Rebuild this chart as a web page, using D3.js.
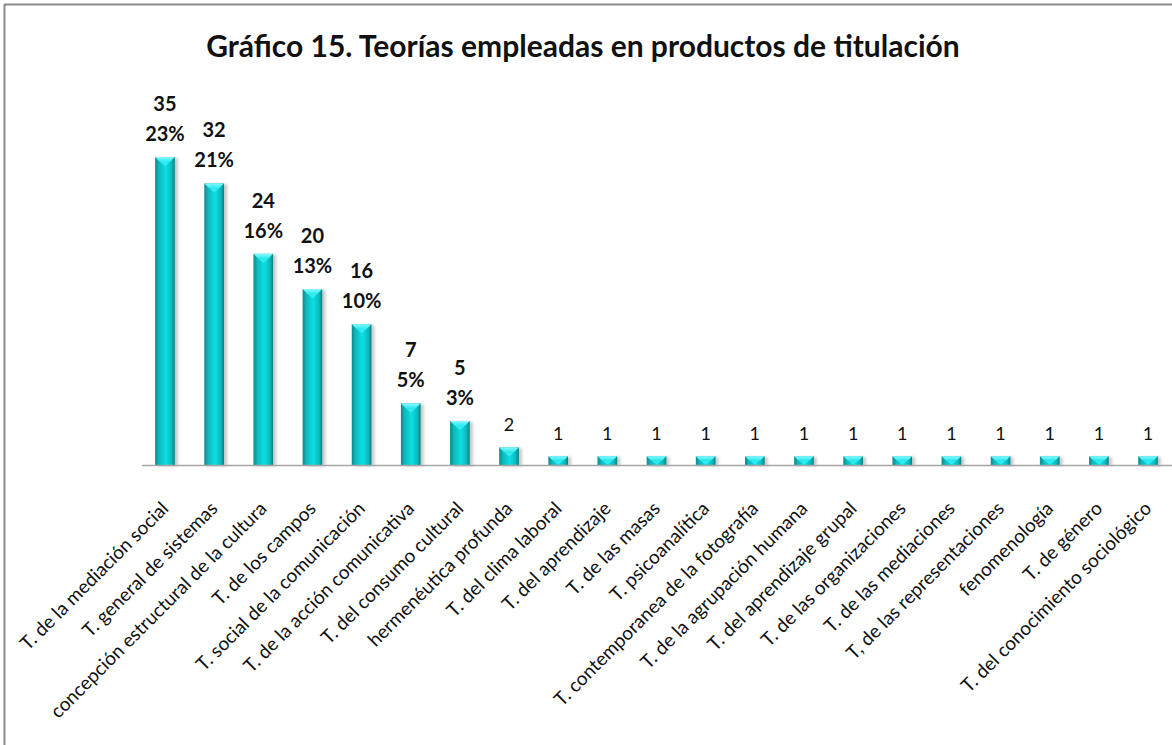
<!DOCTYPE html>
<html>
<head>
<meta charset="utf-8">
<script src="https://cdn.jsdelivr.net/npm/d3@7"></script>
<style>
  html, body { margin: 0; padding: 0; background: #fff; }
  svg { display: block; }
  .title { font-family: Lato, "Open Sans", sans-serif; font-weight: 700; fill: #111; }
  .cat { font-family: Lato, "Open Sans", sans-serif; fill: #111; }
  .lbl { font-family: Lato, "Open Sans", sans-serif; fill: #111; }
</style>
</head>
<body>
<svg id="chart" width="1172" height="745"></svg>
<script>
/* Gráfico 15 – bar chart rebuilt with D3 */

const categories = [
  "T. de la mediación social",
  "T. general de sistemas",
  "concepción estructural de la cultura",
  "T. de los campos",
  "T. social de la comunicación",
  "T. de la acción comunicativa",
  "T. del consumo cultural",
  "hermenéutica profunda",
  "T. del clima laboral",
  "T. del aprendizaje",
  "T. de las masas",
  "T. psicoanalítica",
  "T. contemporanea de la fotografía",
  "T. de la agrupación humana",
  "T. del aprendizaje grupal",
  "T. de las organizaciones",
  "T. de las mediaciones",
  "T, de las representaciones",
  "fenomenología",
  "T. de género",
  "T. del conocimiento sociológico"
];
const counts = [35, 32, 24, 20, 16, 7, 5, 2, 1, 1, 1, 1, 1, 1, 1, 1, 1, 1, 1, 1, 1];
const pctLabels = ["23%", "21%", "16%", "13%", "10%", "5%", "3%",
  null, null, null, null, null, null, null, null, null, null, null, null, null, null];
const yDomain = [0, 40];

const W = 1172, H = 745;
const M = { left: 140.4, right: 1172.6, top: 113, baseline: 465 };

const svg = d3.select('#chart');
const defs = svg.append('defs');

// horizontal shading of the cylinder-like bars
const grad = defs.append('linearGradient').attr('id', 'barGrad')
  .attr('x1', '0%').attr('x2', '100%').attr('y1', '0%').attr('y2', '0%');
grad.append('stop').attr('offset', '0%').attr('stop-color', '#0b8a8d');
grad.append('stop').attr('offset', '20%').attr('stop-color', '#13b8bc');
grad.append('stop').attr('offset', '55%').attr('stop-color', '#06e0e6');
grad.append('stop').attr('offset', '85%').attr('stop-color', '#0fb6ba');
grad.append('stop').attr('offset', '100%').attr('stop-color', '#097a7d');

const capGrad = defs.append('linearGradient').attr('id', 'capGrad')
  .attr('x1', '0%').attr('x2', '0%').attr('y1', '0%').attr('y2', '100%');
capGrad.append('stop').attr('offset', '0%').attr('stop-color', '#8af8fb');
capGrad.append('stop').attr('offset', '100%').attr('stop-color', '#25eaf0');

defs.append('filter').attr('id', 'barShadow')
  .attr('x', '-30%').attr('y', '-10%').attr('width', '170%').attr('height', '130%')
  .append('feDropShadow')
  .attr('dx', 3).attr('dy', 1).attr('stdDeviation', 1.6)
  .attr('flood-color', '#000').attr('flood-opacity', 0.22);

// chart frame (only top/left edges fall inside the picture)
svg.append('line').attr('x1', 4).attr('y1', 4.5).attr('x2', W).attr('y2', 4.5)
  .attr('stroke', '#8a8a8a').attr('stroke-width', 2);
svg.append('line').attr('x1', 4.5).attr('y1', 4).attr('x2', 4.5).attr('y2', H)
  .attr('stroke', '#8a8a8a').attr('stroke-width', 2);

// title
svg.append('text').attr('class', 'title')
  .attr('x', 583).attr('y', 57)
  .attr('text-anchor', 'middle')
  .style('font-size', '30px')
  .text('Gráfico 15. Teorías empleadas en productos de titulación');

const x = d3.scaleBand()
  .domain(categories)
  .range([M.left, M.right])
  .paddingInner(0.6)
  .paddingOuter(0.3);

const y = d3.scaleLinear().domain(yDomain).range([M.baseline, M.top]);

const data = categories.map((c, i) => ({ cat: c, v: counts[i], pct: pctLabels[i] }));

// bars
const barG = svg.append('g').attr('class', 'bars');
const bar = barG.selectAll('g.bar').data(data).join('g').attr('class', 'bar')
  .attr('filter', 'url(#barShadow)');

bar.append('rect')
  .attr('x', d => x(d.cat))
  .attr('y', d => y(d.v))
  .attr('width', x.bandwidth())
  .attr('height', d => y(0) - y(d.v))
  .attr('fill', 'url(#barGrad)');

// bevelled top
const bevel = Math.min(5, x.bandwidth() / 4);
bar.append('polygon')
  .attr('points', d => {
    const x0 = x(d.cat), x1 = x0 + x.bandwidth(), t = y(d.v);
    const b = Math.min(bevel, (y(0) - t) / 2);
    return [[x0, t], [x1, t], [x1 - b, t + b], [x0 + b, t + b]].map(p => p.join(',')).join(' ');
  })
  .attr('fill', 'url(#capGrad)');
bar.append('polygon')
  .attr('points', d => {
    const x0 = x(d.cat), x1 = x0 + x.bandwidth(), t = y(d.v);
    const b = Math.min(bevel, (y(0) - t) / 2);
    const mx = x0 + x.bandwidth() / 2;
    return [[x0 + b, t + b], [x1 - b, t + b], [mx, t + b + b * 0.9]].map(p => p.join(',')).join(' ');
  })
  .attr('fill', '#3ff0f5').attr('opacity', 0.75);

// axis line
svg.append('line')
  .attr('x1', 142).attr('x2', W)
  .attr('y1', M.baseline + 0.5).attr('y2', M.baseline + 0.5)
  .attr('stroke', '#a6a6a6').attr('stroke-width', 1.5);

// value labels
const lblG = svg.append('g');
data.forEach(d => {
  const cx = x(d.cat) + x.bandwidth() / 2;
  const top = y(d.v);
  if (d.pct) {
    lblG.append('text').attr('class', 'lbl')
      .attr('x', cx).attr('y', top - 16)
      .attr('text-anchor', 'middle')
      .style('font-size', '20px').style('font-weight', 700)
      .text(d.pct);
    lblG.append('text').attr('class', 'lbl')
      .attr('x', cx).attr('y', top - 46)
      .attr('text-anchor', 'middle')
      .style('font-size', '20px').style('font-weight', 700)
      .text(d.v);
  } else {
    lblG.append('text').attr('class', 'lbl')
      .attr('x', cx).attr('y', top - 16)
      .attr('text-anchor', 'middle')
      .style('font-size', '18px')
      .text(d.v);
  }
});

// rotated category labels
const axisG = svg.append('g')
  .attr('transform', `translate(0,${M.baseline})`)
  .call(d3.axisBottom(x).tickSize(0).tickPadding(0));
axisG.select('.domain').remove();
axisG.selectAll('.tick text')
  .attr('class', 'cat')
  .style('font-size', '19px')
  .attr('fill', '#111')
  .attr('text-anchor', 'end')
  .attr('dy', '0.35em')
  .attr('transform', 'translate(0,40) rotate(-45)');
</script>
</body>
</html>
